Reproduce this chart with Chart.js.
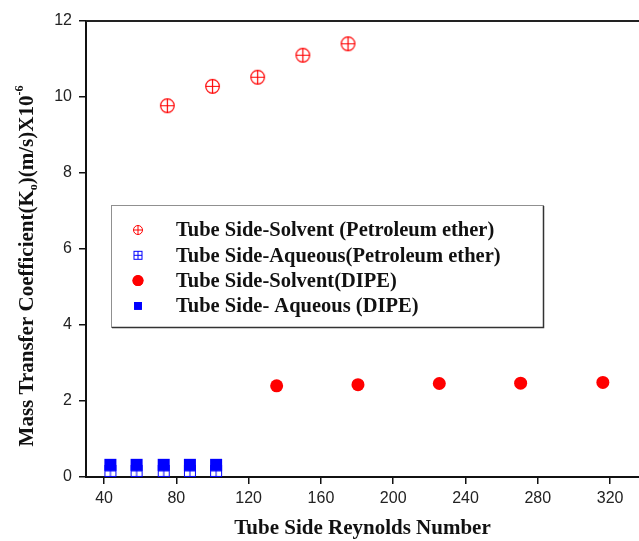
<!DOCTYPE html>
<html>
<head>
<meta charset="utf-8">
<script src="https://cdn.jsdelivr.net/npm/chart.js@4.4.1/dist/chart.umd.min.js"></script>
<style>
  html, body { margin: 0; padding: 0; background: #fff; }
</style>
</head>
<body>
<canvas id="chart" width="639" height="541"></canvas>
<script>
// Values (Reynolds number, Ko x 10^-6 m/s)
const solventPetX = [75, 100, 125, 150, 175];
const solventPetY = [9.77, 10.28, 10.52, 11.10, 11.40];

const aqueousPetX = [43.5, 58, 73, 87.5, 102];
const aqueousPetY = [0.16, 0.16, 0.16, 0.16, 0.16];

const solventDipeX = [135.5, 180.5, 225.5, 270.5, 316];
const solventDipeY = [2.40, 2.43, 2.46, 2.47, 2.49];

const aqueousDipeX = [43.5, 58, 73, 87.5, 102];
const aqueousDipeY = [0.32, 0.32, 0.32, 0.32, 0.32];

const seriesLabels = [
  "Tube Side-Solvent (Petroleum ether)",
  "Tube Side-Aqueous(Petroleum ether)",
  "Tube Side-Solvent(DIPE)",
  "Tube Side- Aqueous (DIPE)"
];

const xTicks = [40, 80, 120, 160, 200, 240, 280, 320];
const yTicks = [0, 2, 4, 6, 8, 10, 12];

const RED = "#ff0000";
const BLUE = "#0000ff";
const SERIF = "'Liberation Serif', 'Times New Roman', serif";
const SANS = "'Liberation Sans', Arial, sans-serif";

function pts(xs, ys) {
  return xs.map((x, i) => ({ x: x, y: ys[i] }));
}

// circle with a cross inside
function crossCircle(r, lw) {
  const s = Math.ceil(2 * r + lw + 2);
  const c = document.createElement("canvas");
  c.width = c.height = s;
  const g = c.getContext("2d");
  const m = s / 2;
  g.strokeStyle = RED;
  g.lineWidth = lw;
  g.beginPath();
  g.arc(m, m, r, 0, Math.PI * 2);
  g.stroke();
  g.beginPath();
  g.moveTo(m - r, m); g.lineTo(m + r, m);
  g.moveTo(m, m - r); g.lineTo(m, m + r);
  g.stroke();
  return c;
}

// square with a cross grid inside
function gridSquare(side, lw) {
  const s = Math.ceil(side + lw + 2);
  const c = document.createElement("canvas");
  c.width = c.height = s;
  const g = c.getContext("2d");
  const o = (s - side) / 2;
  g.strokeStyle = BLUE;
  g.lineWidth = lw;
  g.strokeRect(o, o, side, side);
  g.beginPath();
  g.moveTo(o, s / 2); g.lineTo(o + side, s / 2);
  g.moveTo(s / 2, o); g.lineTo(s / 2, o + side);
  g.stroke();
  return c;
}

const legendIcons = [
  { style: crossCircle(4.5, 1) },
  { style: gridSquare(8, 1) },
  { style: "circle", r: 5.5, color: RED },
  { style: "rect", r: 5.5, color: BLUE }
];

// boxed legend inside the plot area
const boxLegend = {
  id: "boxLegend",
  afterDraw(chart) {
    const ctx = chart.ctx;
    const a = chart.chartArea;
    const left = a.left + 25, top = 205, w = 432, h = 122;
    ctx.save();
    ctx.strokeStyle = "#909090";
    ctx.lineWidth = 1;
    ctx.strokeRect(left + 0.5, top + 0.5, w, h);
    ctx.strokeStyle = "#333";
    ctx.lineWidth = 1.5;
    ctx.beginPath();
    ctx.moveTo(left + w + 0.5, top + 1);
    ctx.lineTo(left + w + 0.5, top + h + 0.5);
    ctx.lineTo(left + 1, top + h + 0.5);
    ctx.stroke();

    ctx.font = "bold 20.5px " + SERIF;
    ctx.textBaseline = "middle";
    chart.data.datasets.forEach((ds, i) => {
      const y = top + 25 + i * 25.3;
      const ic = legendIcons[i];
      if (typeof ic.style === "string") {
        ctx.fillStyle = ic.color;
        ctx.strokeStyle = ic.color;
        Chart.helpers.drawPoint(ctx, { pointStyle: ic.style, radius: ic.r, borderWidth: 0 }, left + 27, y);
        ctx.fill();
      } else {
        ctx.drawImage(ic.style, left + 27 - ic.style.width / 2, y - ic.style.height / 2);
      }
      ctx.fillStyle = "#111";
      ctx.fillText(ds.label, left + 65, y + 1);
    });
    ctx.restore();
  }
};

// y title with subscript / superscript, plus frame line on top
const yTitle = {
  id: "yTitle",
  afterDraw(chart) {
    const ctx = chart.ctx;
    const a = chart.chartArea;
    const big = "bold 21px " + SERIF;
    const small = "bold 12px " + SERIF;
    const segs = [
      { t: "Mass Transfer Coefficient(K", f: big, dy: 0 },
      { t: "o", f: small, dy: 6 },
      { t: ")(m/s)X10", f: big, dy: 0 },
      { t: "-6", f: small, dy: -8 }
    ];
    ctx.save();
    ctx.strokeStyle = "#222";
    ctx.lineWidth = 2;
    ctx.beginPath();
    ctx.moveTo(a.left, a.top);
    ctx.lineTo(a.right, a.top);
    ctx.stroke();

    ctx.translate(28, 266);
    ctx.rotate(-Math.PI / 2);
    ctx.textBaseline = "middle";
    ctx.fillStyle = "#111";
    let total = 0;
    segs.forEach(s => { ctx.font = s.f; total += ctx.measureText(s.t).width; });
    let x = -total / 2;
    segs.forEach(s => {
      ctx.font = s.f;
      ctx.fillText(s.t, x, s.dy);
      x += ctx.measureText(s.t).width;
    });
    ctx.restore();
  }
};

new Chart(document.getElementById("chart"), {
  type: "scatter",
  data: {
    datasets: [
      {
        label: seriesLabels[0],
        data: pts(solventPetX, solventPetY),
        pointStyle: crossCircle(6.8, 1.2),
        order: 3,
        clip: false
      },
      {
        label: seriesLabels[1],
        data: pts(aqueousPetX, aqueousPetY),
        pointStyle: gridSquare(11, 1),
        order: 2,
        clip: false
      },
      {
        label: seriesLabels[2],
        data: pts(solventDipeX, solventDipeY),
        pointStyle: "circle",
        pointRadius: 6.5,
        backgroundColor: RED,
        borderColor: RED,
        borderWidth: 0,
        order: 0,
        clip: false
      },
      {
        label: seriesLabels[3],
        data: pts(aqueousDipeX, aqueousDipeY),
        pointStyle: "rect",
        pointRadius: 8.5,
        backgroundColor: BLUE,
        borderColor: BLUE,
        borderWidth: 0,
        order: 1,
        clip: false
      }
    ]
  },
  options: {
    responsive: false,
    animation: false,
    devicePixelRatio: 1,
    layout: { autoPadding: false, padding: { top: 21, right: 0, bottom: 0, left: 0 } },
    plugins: {
      legend: { display: false },
      tooltip: { enabled: false }
    },
    scales: {
      x: {
        type: "linear",
        min: 30,
        max: 336,
        afterBuildTicks: axis => { axis.ticks = xTicks.map(v => ({ value: v })); },
        afterFit: axis => { axis.height = 64; axis.paddingLeft = 0; axis.paddingRight = 0; },
        border: { display: true, color: "#111", width: 2 },
        grid: { drawOnChartArea: false, drawTicks: true, tickLength: 7, color: "#111", lineWidth: 1.5 },
        ticks: { font: { family: SANS, size: 16 }, color: "#222", padding: 5, maxRotation: 0 },
        title: {
          display: true,
          text: "Tube Side Reynolds Number",
          font: { family: SERIF, size: 21, weight: "bold" },
          color: "#111",
          padding: { top: 0, bottom: 0 }
        }
      },
      y: {
        min: 0,
        max: 12,
        afterBuildTicks: axis => { axis.ticks = yTicks.map(v => ({ value: v })); },
        afterFit: axis => { axis.width = 86; axis.paddingTop = 0; axis.paddingBottom = 0; },
        border: { display: true, color: "#111", width: 2 },
        grid: { drawOnChartArea: false, drawTicks: true, tickLength: 7, color: "#111", lineWidth: 1.5 },
        ticks: { font: { family: SANS, size: 16 }, color: "#222", padding: 7 }
      }
    }
  },
  plugins: [boxLegend, yTitle]
});
</script>
</body>
</html>
